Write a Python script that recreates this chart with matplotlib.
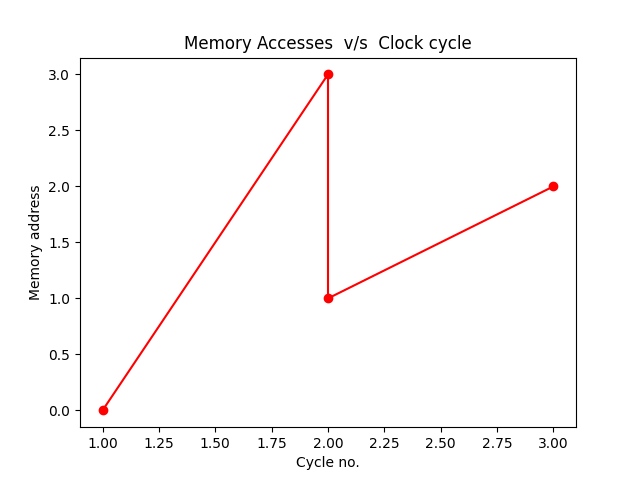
import matplotlib
matplotlib.use("Agg")
import matplotlib.pyplot as plt

# clock cycle vs memory address accessed
cycles = [1, 2, 2, 3]
addresses = [0, 3, 1, 2]

fig = plt.figure(figsize=(6.4, 4.8), dpi=100)
plt.plot(cycles, addresses, 'ro-')
plt.title("Memory Accesses  v/s  Clock cycle")
plt.xlabel("Cycle no.")
plt.ylabel("Memory address")
plt.savefig("out.png")
